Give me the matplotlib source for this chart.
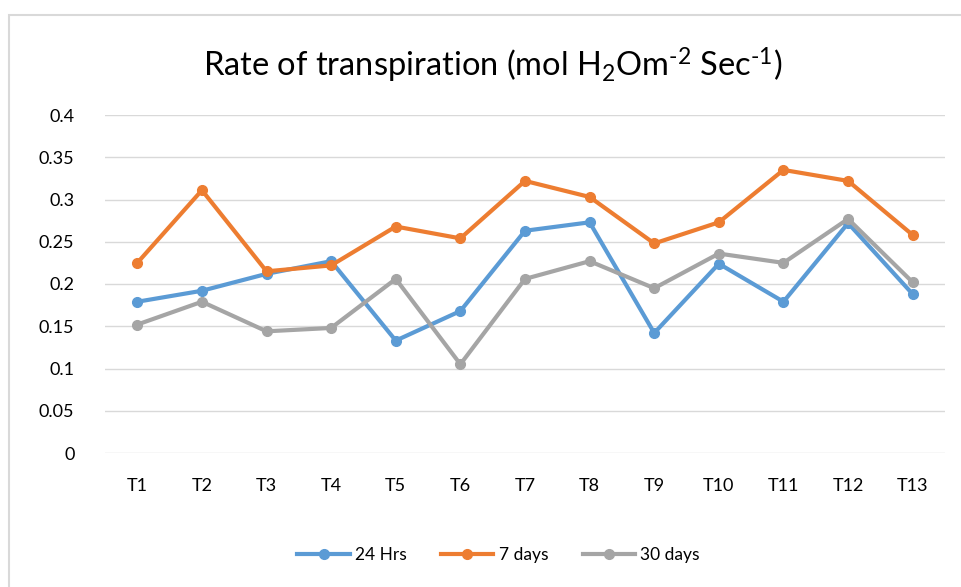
import matplotlib
matplotlib.use("Agg")
import matplotlib.pyplot as plt
from matplotlib.patches import Rectangle

categories = ["T1", "T2", "T3", "T4", "T5", "T6", "T7", "T8", "T9", "T10", "T11", "T12", "T13"]
hrs24 = [0.179, 0.192, 0.212, 0.227, 0.133, 0.168, 0.263, 0.273, 0.142, 0.224, 0.179, 0.272, 0.188]
days7 = [0.225, 0.311, 0.215, 0.222, 0.268, 0.254, 0.322, 0.303, 0.248, 0.273, 0.335, 0.322, 0.258]
days30 = [0.152, 0.179, 0.144, 0.148, 0.206, 0.105, 0.206, 0.227, 0.195, 0.236, 0.225, 0.277, 0.202]
series_names = ["24 Hrs", "7 days", "30 days"]
yticks = [0, 0.05, 0.1, 0.15, 0.2, 0.25, 0.3, 0.35, 0.4]
ytick_labels = ["0", "0.05", "0.1", "0.15", "0.2", "0.25", "0.3", "0.35", "0.4"]

plt.rcParams['font.family'] = ['Lato', 'DejaVu Sans']
plt.rcParams['mathtext.fontset'] = 'custom'
plt.rcParams['mathtext.rm'] = 'Lato'
plt.rcParams['mathtext.it'] = 'Lato'

W, H = 961, 587
fig = plt.figure(figsize=(W/100, H/100), dpi=100)

# chart border
fig.patches.append(Rectangle((9/W, -0.05), 1.1, 1 - 15/H + 0.05, transform=fig.transFigure,
                             fill=False, edgecolor="#d9d9d9", linewidth=1.5))

ax = fig.add_axes([105/W, 1 - 453/H, (945-105)/W, (453-115)/H])
colors = ["#5b9bd5", "#ed7d31", "#a5a5a5"]
x = list(range(len(categories)))
for vals, name, c in zip([hrs24, days7, days30], series_names, colors):
    ax.plot(x, vals, color=c, linewidth=3, marker="o", markersize=7, label=name)

ax.set_xlim(-0.5, len(categories) - 0.5)
ax.set_ylim(0, 0.4)
ax.set_yticks(yticks)
ax.set_yticklabels(ytick_labels)
ax.set_xticks(x)
ax.set_xticklabels(categories)
ax.grid(axis="y", color="#d9d9d9", linewidth=1)
ax.set_axisbelow(True)
for s in ax.spines.values():
    s.set_visible(False)
ax.tick_params(length=0, labelsize=13, colors="#000000")
ax.tick_params(axis="y", pad=22)
ax.tick_params(axis="x", pad=18)

fig.text(0.5 + 12/W, 1 - 65/H, 'Rate of transpiration (mol H$_2$Om$^{\u20102}$ Sec$^{\u20101}$)',
         ha="center", va="center", fontsize=23.5, color="#000000")

fig.legend(loc="center", bbox_to_anchor=(0.5 + 18/W, 1 - 555/H), ncol=3, frameon=False,
           fontsize=12.5, handlelength=3.0, columnspacing=2.0, handletextpad=0.3)

fig.savefig("out.png", dpi=100)
